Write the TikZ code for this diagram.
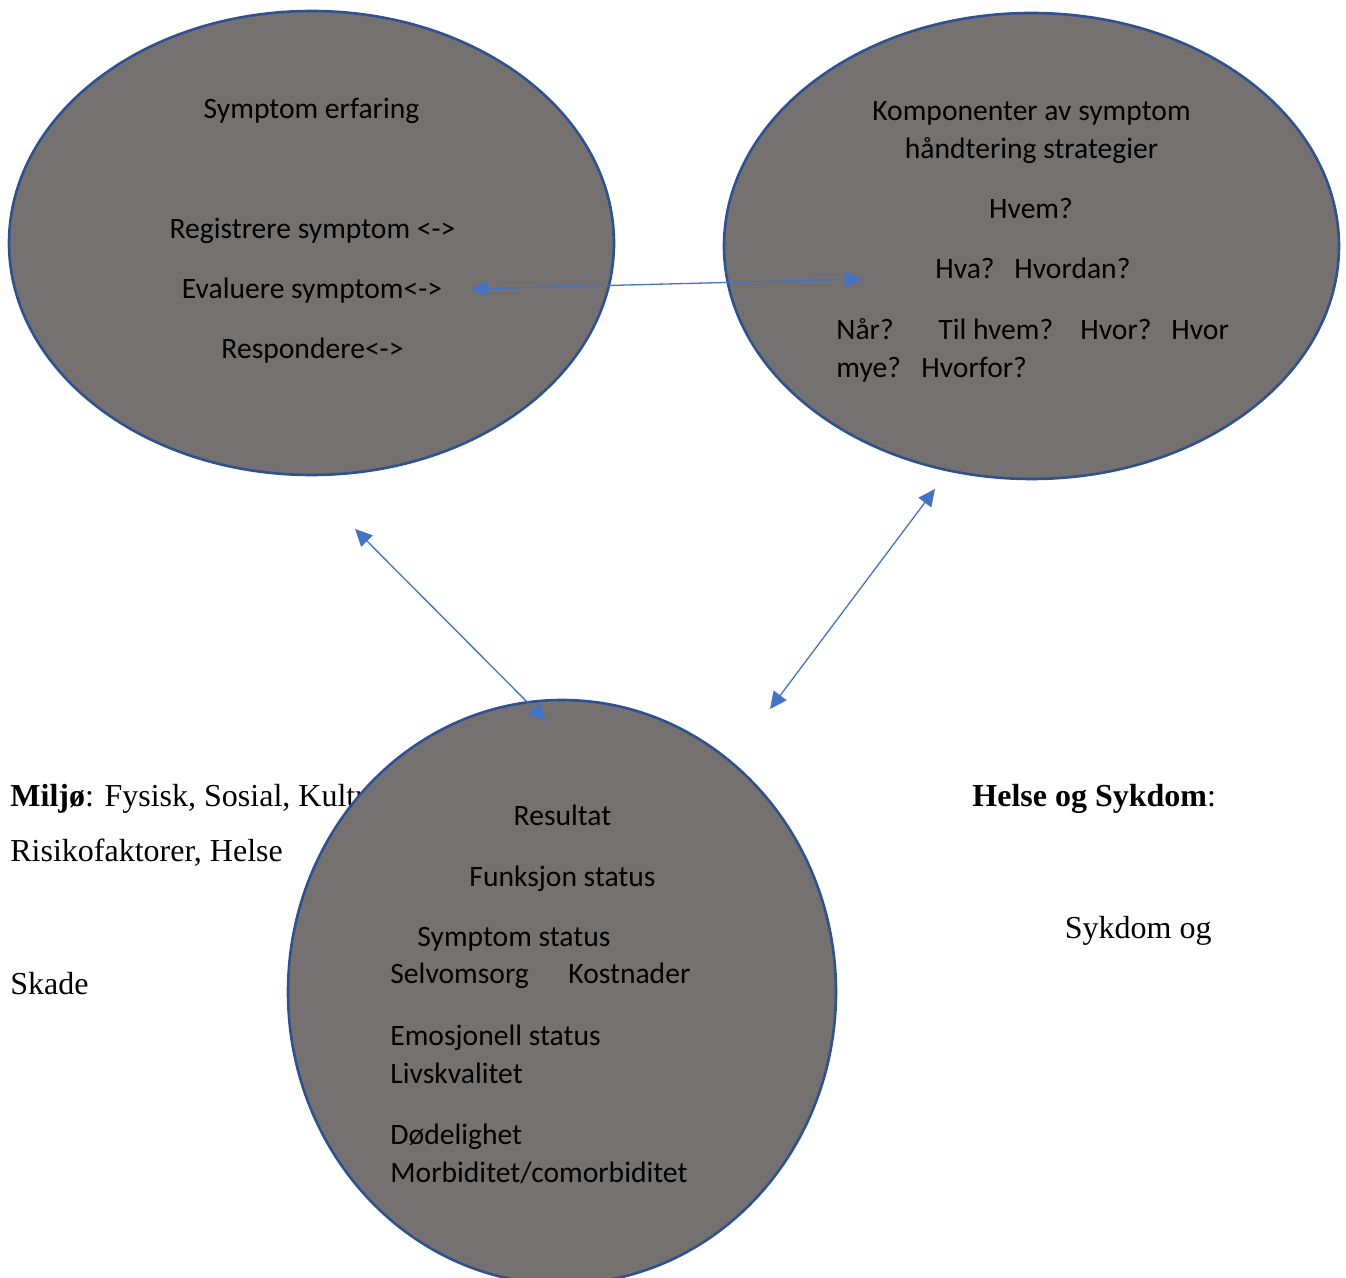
\documentclass[tikz,border=0pt]{standalone}
\usepackage{fontspec}
\setmainfont{Liberation Serif}
\newfontfamily\calib{Carlito}
\usetikzlibrary{shapes.geometric,arrows.meta}
\definecolor{fillgray}{HTML}{767171}
\definecolor{edgeblue}{HTML}{2F528F}
\definecolor{arrowblue}{HTML}{4472C4}
\tikzset{
  bubble/.style={ellipse, draw=edgeblue, fill=fillgray, line width=1.3pt, inner sep=0pt},
  intext/.style={font=\calib\fontsize{14.8pt}{18pt}\selectfont, text=black, inner sep=0pt},
  outtext/.style={font=\fontsize{16pt}{19pt}\selectfont, text=black, inner sep=0pt, anchor=base west},
  link/.style={draw=arrowblue, line width=0.65pt, {Triangle[length=8.5pt,width=8pt]}-{Triangle[length=8.5pt,width=8pt]}}
}
\begin{document}
\begin{tikzpicture}[x=0.5pt,y=-0.5pt]
\useasboundingbox (0,0) rectangle (1346,1278);
% outside texts (drawn first, partly covered)
\node[outtext] (milj) at (10,807) {\textbf{Miljø}: Fysisk, Sosial, Kultur};
\node[outtext] (risk) at (10,862) {Risikofaktorer, Helse};
\node[outtext] (skade) at (10,994) {Skade};
\node[outtext] (helse) at (972,807) {\textbf{Helse og Sykdom}:};
\node[outtext, anchor=base east] (sykdom) at (1212,938) {Sykdom og};
% ellipses
\begin{scope}
\clip (0,0) rectangle (1346,1278);
\node[bubble, minimum width=302.5pt, minimum height=232pt] (L) at (311.5,243) {};
\node[bubble, minimum width=307.5pt, minimum height=233pt] (R) at (1031.5,246) {};
\node[bubble, minimum width=274pt, minimum height=292pt] (B) at (562,992) {};
\end{scope}
% left ellipse text
\node[intext, anchor=base] (l1) at (311.5,119) {Symptom erfaring};
\node[intext, anchor=base] (l2) at (312.5,239) {Registrere symptom <->};
\node[intext, anchor=base] (l3) at (312,299) {Evaluere symptom<->};
\node[intext, anchor=base] (l4) at (312.5,359) {Respondere<->};
% right ellipse text
\node[intext, anchor=base] (r1) at (1031.5,121) {Komponenter av symptom};
\node[intext, anchor=base] (r2) at (1031.5,159) {håndtering strategier};
\node[intext, anchor=base] (r3) at (1031,219) {Hvem?};
\node[intext, anchor=base west] (r4a) at (935,279) {Hva?};
\node[intext, anchor=base west] (r4b) at (1014,279) {Hvordan?};
\node[intext, anchor=base west] (r5a) at (836,340) {Når?};
\node[intext, anchor=base west] (r5b) at (938,340) {Til hvem?};
\node[intext, anchor=base west] (r5c) at (1080,340) {Hvor?};
\node[intext, anchor=base west] (r5d) at (1171,340) {Hvor};
\node[intext, anchor=base west] (r6a) at (836,378) {mye?};
\node[intext, anchor=base west] (r6b) at (921,378) {Hvorfor?};
% bottom ellipse text
\node[intext, anchor=base] (b1) at (562.5,826) {Resultat};
\node[intext, anchor=base] (b2) at (562.5,886) {Funksjon status};
\node[intext, anchor=base west] (b3) at (417,946) {Symptom status};
\node[intext, anchor=base west] (b4a) at (390,984) {Selvomsorg};
\node[intext, anchor=base west] (b4b) at (568,984) {Kostnader};
\node[intext, anchor=base west] (b5) at (390,1045) {Emosjonell status};
\node[intext, anchor=base west] (b6) at (390,1083) {Livskvalitet};
\node[intext, anchor=base west] (b7) at (390,1144) {Dødelighet};
\node[intext, anchor=base west] (b8) at (390,1182) {Morbiditet/comorbiditet};
% connector end points
\coordinate (a1s) at (471,289);
\coordinate (a1e) at (862,279);
\coordinate (a2s) at (355,529);
\coordinate (a2e) at (546,721);
\coordinate (a3s) at (935,489);
\coordinate (a3e) at (770,709);
\draw[link] (a1s) -- (a1e);
\draw[link] (a2s) -- (a2e);
\draw[link] (a3s) -- (a3e);
\end{tikzpicture}
\end{document}
